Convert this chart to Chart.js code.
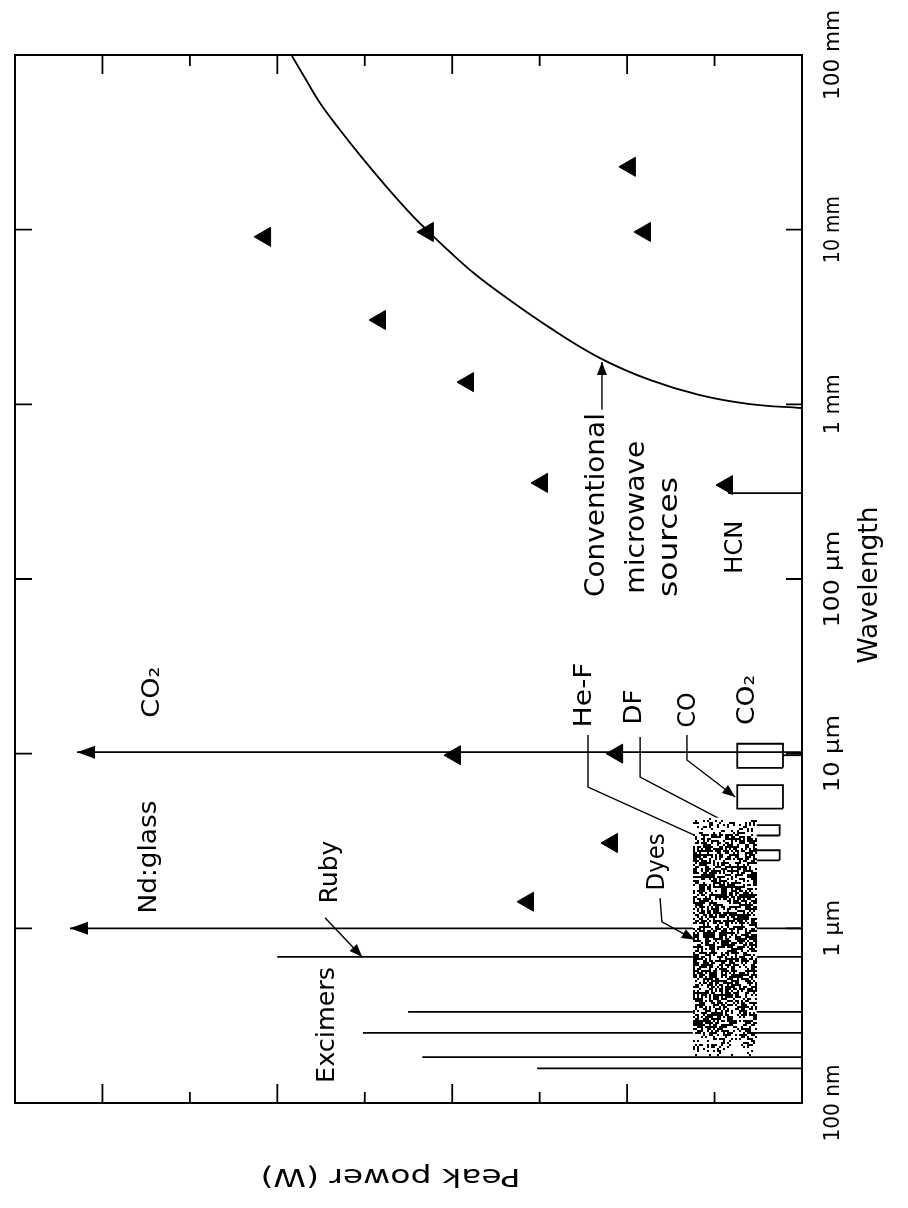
<!DOCTYPE html>
<html><head><meta charset="utf-8">
<script src="https://cdn.jsdelivr.net/npm/chart.js@4.4.1/dist/chart.umd.min.js"></script>
<style>html,body{margin:0;padding:0;background:#fff;} canvas{display:block;}</style>
</head><body>
<canvas id="c" width="908" height="1208"></canvas>
<script>
// ---------------- data ----------------
const wavelengthTicks = [1e-7, 1e-6, 1e-5, 1e-4, 1e-3, 1e-2, 1e-1];
const wavelengthTickLabels = ['100 nm', '1 µm', '10 µm', '100 µm', '1 mm', '10 mm', '100 mm'];
const powerTicks = [1e4, 1e5, 1e6, 1e7, 1e8, 1e9, 1e10, 1e11];

// pulsed sources (triangles)
const sourcePower      = [1.38e9, 1.9e7, 6.7e7, 6.6e6, 9.3e4, 6.25e4, 9.4e5, 7.2e3, 9.3e6, 1.3e5, 1.49e5, 1.36e6];
const sourceWavelength = [9.1e-3, 9.7e-3, 3.04e-3, 1.34e-3, 2.29e-2, 9.7e-3, 3.55e-4, 3.45e-4, 9.8e-6, 1.0e-5, 3.08e-6, 1.42e-6];

// conventional microwave sources
const microwavePower      = [1e3, 3.94e3, 1.47e4, 5.5e4, 2.04e5, 7.6e5, 2.85e6, 5.5e6, 1.06e7, 1.95e7, 3.04e7, 5.87e7, 1.135e8, 1.92e8, 3.25e8, 4.83e8, 6.8e8];
const microwaveWavelength = [9.53e-4, 1.004e-3, 1.13e-3, 1.38e-3, 1.84e-3, 2.74e-3, 4.34e-3, 5.57e-3, 7.45e-3, 9.95e-3, 1.245e-2, 1.80e-2, 2.67e-2, 3.72e-2, 5.31e-2, 7.38e-2, 9.86e-2];

// laser lines (from the axis minimum up to the peak power)
const laserLineWavelength = [1.02e-5, 1.0e-6, 6.86e-7, 3.32e-7, 2.52e-7, 1.83e-7, 1.58e-7, 3.1e-4, 9.8e-6];
const laserLinePeak       = [1.95e11, 2.35e11, 1.0e9, 3.2e7, 1.05e8, 2.2e7, 1.07e6, 7.0e3, 1.65e3];
const laserLineArrow      = [true, true, false, false, false, false, false, false, false];

// CO2, CO, DF, HF ranges (boxes)
const boxWavelengthLow  = [8.3e-6, 4.85e-6, 3.4e-6, 2.45e-6];
const boxWavelengthHigh = [1.14e-5, 6.6e-6, 3.9e-6, 2.8e-6];
const boxPowerLow  = [1.65e3, 1.65e3, 1.8e3, 1.8e3];
const boxPowerHigh = [5.5e3, 5.5e3, 5.1e3, 5.1e3];

// dye lasers (stippled region)
const dyePower = [3.3e3, 1.77e4];
const dyeWavelength = [1.88e-7, 4.3e-6];

// leaders (power, wavelength pairs), last point = arrow tip
const leaderRubyP = [2.85e8, 1.07e8],             leaderRubyL = [1.15e-6, 6.86e-7];
const leaderDyesP = [4.2e4, 4.0e4, 1.68e4],        leaderDyesL = [1.49e-6, 1.09e-6, 8.6e-7];
const leaderHFP   = [2.8e5, 2.8e5, 5.4e3],         leaderHFL   = [1.28e-5, 6.44e-6, 2.63e-6];
const leaderDFP   = [7.1e4, 7.1e4, 5.5e3],         leaderDFL   = [1.245e-5, 7.35e-6, 3.75e-6];
const leaderCOP   = [2.07e4, 2.07e4, 5.8e3],       leaderCOL   = [1.28e-5, 9.2e-6, 5.65e-6];
const leaderMWP   = [1.94e5, 1.94e5],              leaderMWL   = [9.3e-4, 1.75e-3];

// labels
const labelText       = ['CO₂', 'Nd:glass', 'Ruby', 'Excimers', 'Dyes', 'He-F', 'DF', 'CO', 'CO₂', 'Conventional', 'microwave', 'sources', 'HCN'];
const labelPower      = [2.7e10, 2.9e10, 2.44e8, 2.7e8, 4.55e4, 3.1e5, 8.3e4, 1.96e4, 4.25e3, 2.2e5, 7.7e4, 3.24e4, 5.8e3];
const labelWavelength = [2.25e-5, 2.56e-6, 2.1e-6, 2.8e-7, 2.4e-6, 2.17e-5, 1.85e-5, 1.78e-5, 2.03e-5, 2.65e-4, 2.26e-4, 1.74e-4, 1.52e-4];

// ---------------- layout / style (not data) ----------------
const labelLen = [51, 113, 63, 116, 57, 65, 35, 35, 50, 184, 153, 120, 53];
const tickLabelLen = [77, 57, 77, 97, 60, 67, 90];
const FONT = "'DejaVu Sans', sans-serif";

function zip(ps, ls) { return ps.map((p, i) => ({ x: p, y: ls[i] })); }
const lineStyle = { showLine: true, pointRadius: 0, borderColor: '#000', borderWidth: 1.6, fill: false, tension: 0 };

const datasets = [];
datasets.push({
  label: 'pulsed sources', data: zip(sourcePower, sourceWavelength), showLine: false,
  pointStyle: 'triangle', rotation: -90, pointRadius: 11, backgroundColor: '#000', borderColor: '#000', borderWidth: 1
});
datasets.push(Object.assign({}, lineStyle, { label: 'conventional microwave sources', data: zip(microwavePower, microwaveWavelength), tension: 0.4, borderWidth: 1.8 }));
laserLineWavelength.forEach((l, i) => {
  datasets.push(Object.assign({}, lineStyle, { label: 'line' + i, data: [{ x: 1e3, y: l }, { x: laserLinePeak[i], y: l }], arrow: laserLineArrow[i], borderWidth: 1.8 }));
});
boxWavelengthLow.forEach((lo, i) => {
  const hi = boxWavelengthHigh[i], p0 = boxPowerLow[i], p1 = boxPowerHigh[i];
  datasets.push(Object.assign({}, lineStyle, { label: 'box' + i, data: [{ x: p0, y: lo }, { x: p1, y: lo }, { x: p1, y: hi }, { x: p0, y: hi }, { x: p0, y: lo }], borderWidth: 1.8 }));
});
[[leaderRubyP, leaderRubyL], [leaderDyesP, leaderDyesL], [leaderHFP, leaderHFL], [leaderDFP, leaderDFL], [leaderCOP, leaderCOL], [leaderMWP, leaderMWL]]
  .forEach((pr, i) => datasets.push(Object.assign({}, lineStyle, { label: 'leader' + i, data: zip(pr[0], pr[1]), arrow: true, borderWidth: 1.4 })));

function arrowHead(ctx, x1, y1, x2, y2, len, half) {
  const a = Math.atan2(y2 - y1, x2 - x1);
  ctx.beginPath();
  ctx.moveTo(x2, y2);
  ctx.lineTo(x2 - len * Math.cos(a) + half * Math.sin(a), y2 - len * Math.sin(a) - half * Math.cos(a));
  ctx.lineTo(x2 - len * Math.cos(a) - half * Math.sin(a), y2 - len * Math.sin(a) + half * Math.cos(a));
  ctx.closePath();
  ctx.fill();
}
function drawText(ctx, text, cx, cy, angle, size, target) {
  ctx.save();
  ctx.font = size + 'px ' + FONT;
  ctx.textAlign = 'center';
  ctx.textBaseline = 'middle';
  const w = ctx.measureText(text).width;
  ctx.translate(cx, cy);
  ctx.rotate(angle);
  if (target) ctx.scale(target / w, 1);
  ctx.fillText(text, 0, 0);
  ctx.restore();
}
function fract(v) { return v - Math.floor(v); }

const annot = {
  id: 'annot',
  afterDatasetsDraw(chart) {
    const { ctx, chartArea: a, scales: { x, y } } = chart;
    const X = v => x.getPixelForValue(v), Y = v => y.getPixelForValue(v);
    ctx.save();
    ctx.fillStyle = '#000'; ctx.strokeStyle = '#000';
    chart.data.datasets.forEach(ds => {
      if (!ds.arrow) return;
      const n = ds.data.length, p1 = ds.data[n - 2], p2 = ds.data[n - 1];
      const big = ds.borderWidth > 1.5;
      arrowHead(ctx, X(p1.x), Y(p1.y), X(p2.x), Y(p2.y), big ? 18 : 13, big ? 6.5 : 5);
    });
    // dye stipple
    const sx0 = X(dyePower[1]), sx1 = X(dyePower[0]), sy0 = Y(dyeWavelength[1]), sy1 = Y(dyeWavelength[0]);
    ctx.fillStyle = '#fff';
    ctx.fillRect(sx0, sy0, sx1 - sx0, sy1 - sy0);
    ctx.fillStyle = '#000';
    for (let i = Math.round(sx0); i < sx1; i += 2) {
      for (let j = Math.round(sy0); j < sy1; j += 2) {
        const t = (j - sy0) / (sy1 - sy0);
        let d = 0.6;
        if (t < 0.12) d = 0.18 + t * 3.5;
        if (t > 0.86) d = Math.max(0.14, 0.6 - (t - 0.86) * 3.3);
        const h = fract(Math.sin(i * 12.9898 + j * 78.233) * 43758.5453);
        const h2 = fract(Math.sin(Math.floor(i / 6) * 39.3468 + Math.floor(j / 6) * 11.135) * 24634.6345);
        if (h < d + (h2 - 0.5) * 0.4) ctx.fillRect(i, j, 2, 2);
      }
    }
    // frame
    ctx.lineWidth = 2;
    ctx.strokeRect(a.left, a.top, a.right - a.left, a.bottom - a.top);
    // ticks
    ctx.lineWidth = 1.8;
    ctx.beginPath();
    powerTicks.forEach(p => {
      const px = X(p), long = Math.round(Math.log10(p)) % 2 === 1, len = long ? 19 : 11;
      ctx.moveTo(px, a.top); ctx.lineTo(px, a.top + len);
      ctx.moveTo(px, a.bottom); ctx.lineTo(px, a.bottom - len);
    });
    wavelengthTicks.slice(1, -1).forEach(l => {
      const py = Y(l);
      ctx.moveTo(a.left, py); ctx.lineTo(a.left + 17, py);
      ctx.moveTo(a.right, py); ctx.lineTo(a.right - 16, py);
    });
    ctx.stroke();
    ctx.fillStyle = '#000';
    wavelengthTicks.forEach((l, i) => drawText(ctx, wavelengthTickLabels[i], a.right + 31, Y(l), -Math.PI / 2, 22, tickLabelLen[i]));
    drawText(ctx, 'Wavelength', a.right + 68, (a.top + a.bottom) / 2 + 6, -Math.PI / 2, 26, 157);
    drawText(ctx, 'Peak power (W)', (a.left + a.right) / 2 - 18, a.bottom + 72, Math.PI, 24, 260);
    labelText.forEach((t, i) => {
      const big = i >= 9 && i <= 11;
      drawText(ctx, t, X(labelPower[i]), Y(labelWavelength[i]), -Math.PI / 2, big ? 27 : 25, labelLen[i]);
    });
    ctx.restore();
  }
};

new Chart(document.getElementById('c'), {
  type: 'scatter',
  data: { datasets },
  options: {
    responsive: false, animation: false, devicePixelRatio: 1,
    layout: { padding: { left: 15, top: 55, right: 106, bottom: 105 } },
    plugins: { legend: { display: false }, tooltip: { enabled: false } },
    scales: {
      x: { type: 'logarithmic', reverse: true, min: 1e3, max: 1e12, display: false },
      y: { type: 'logarithmic', min: 1e-7, max: 1e-1, display: false }
    }
  },
  plugins: [annot]
});
</script>
</body></html>
